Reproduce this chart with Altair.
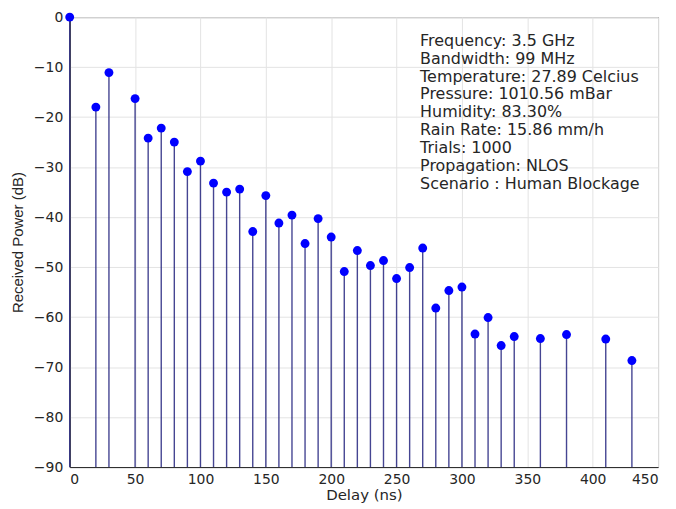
import altair as alt
import pandas as pd

delay_ns = [0, 20, 30, 50, 60, 70, 80, 90, 100, 110, 120, 130, 140, 150, 160,
            170, 180, 190, 200, 210, 220, 230, 240, 250, 260, 270, 280, 290,
            300, 310, 320, 330, 340, 360, 380, 410, 430]
power_db = [0, -18.0, -11.1, -16.3, -24.2, -22.2, -25.0, -30.9, -28.8, -33.2,
            -35.0, -34.4, -42.9, -35.7, -41.2, -39.6, -45.3, -40.3, -44.0,
            -50.9, -46.7, -49.7, -48.7, -52.3, -50.1, -46.2, -58.2, -54.7,
            -54.0, -63.4, -60.1, -65.7, -63.9, -64.3, -63.5, -64.4, -68.7]
info_lines = ["Frequency: 3.5 GHz", "Bandwidth: 99 MHz",
              "Temperature: 27.89 Celcius", "Pressure: 1010.56 mBar",
              "Humidity: 83.30%", "Rain Rate: 15.86 mm/h", "Trials: 1000",
              "Propagation: NLOS", "Scenario : Human Blockage"]

df = pd.DataFrame({"delay": delay_ns, "power": power_db, "base": [-90] * len(delay_ns)})
info = pd.DataFrame({"x": [268], "y": [-3.2], "text": ["\n".join(info_lines)]})

WIDE = "DejaVu Sans"
NARROW = "Liberation Sans"
INK = "#262626"
xs = alt.Scale(domain=[0, 450], nice=False, zero=False)
ys = alt.Scale(domain=[-90, 0], nice=False, zero=False)

x_axis = alt.Axis(values=list(range(0, 451, 50)), title="Delay (ns)", grid=True,
                  ticks=False, labelPadding=6, titlePadding=1,
                  labelFont=WIDE, titleFont=WIDE, labelFontSize=14, titleFontSize=15)
y_axis = alt.Axis(values=list(range(-90, 1, 10)), title="Received Power (dB)", grid=True,
                  ticks=False, labelPadding=7, titlePadding=8,
                  labelFont=WIDE, titleFont=NARROW, labelFontSize=14, titleFontSize=15)

stems = alt.Chart(df).mark_rule(color="#25257f", strokeWidth=1.4, opacity=0.85).encode(
    x=alt.X("delay:Q", scale=xs, axis=x_axis),
    y=alt.Y("base:Q", scale=ys, axis=y_axis),
    y2="power:Q",
)
points = alt.Chart(df).mark_point(filled=True, color="#0000ff", opacity=1, size=80, shape="circle").encode(
    x=alt.X("delay:Q", scale=xs),
    y=alt.Y("power:Q", scale=ys),
)
text = alt.Chart(info).mark_text(align="left", baseline="top", lineBreak="\n", lineHeight=17.9,
                                 fontSize=16, font=WIDE, color=INK).encode(
    x=alt.X("x:Q", scale=xs),
    y=alt.Y("y:Q", scale=ys),
    text="text:N",
)

chart = alt.layer(stems, points, text).properties(
    width=591, height=452,
    background="white",
    autosize=alt.AutoSizeParams(type="none"),
    padding={"left": 62, "top": 8, "right": 10, "bottom": 41},
).configure_view(stroke=INK, strokeWidth=1).configure_axis(
    labelColor=INK, titleColor=INK, titleFontWeight="normal",
    domainColor=INK, gridColor="#e3e3e3", gridWidth=1,
)

chart.save("out.html", embed_options={"renderer": "svg", "actions": False})
